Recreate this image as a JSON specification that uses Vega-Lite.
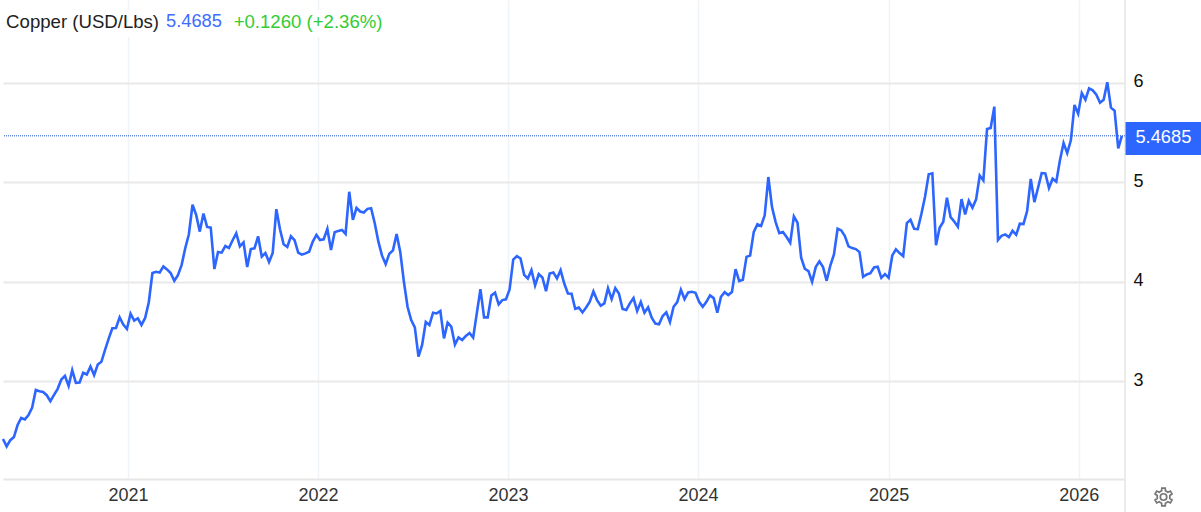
{"$schema":"https://vega.github.io/schema/vega-lite/v6.json","width":1122,"height":479,"autosize":"none","padding":{"left":3,"right":76,"top":0,"bottom":33},"background":"white","config":{"view":{"stroke":null},"font":"Liberation Sans"},
"datasets":{"copper":[
{"d":"2020-05-06","v":2.418},{"d":"2020-05-13","v":2.343},{"d":"2020-05-20","v":2.407},{"d":"2020-05-27","v":2.438},{"d":"2020-06-03","v":2.559},{"d":"2020-06-10","v":2.63},{"d":"2020-06-17","v":2.616},{"d":"2020-06-24","v":2.66},{"d":"2020-07-01","v":2.734},{"d":"2020-07-08","v":2.912},{"d":"2020-07-15","v":2.899},{"d":"2020-07-22","v":2.892},{"d":"2020-07-29","v":2.859},{"d":"2020-08-05","v":2.798},{"d":"2020-08-12","v":2.862},{"d":"2020-08-19","v":2.923},{"d":"2020-08-26","v":3.017},{"d":"2020-09-02","v":3.054},{"d":"2020-09-09","v":2.953},{"d":"2020-09-16","v":3.111},{"d":"2020-09-23","v":2.983},{"d":"2020-09-30","v":2.987},{"d":"2020-10-07","v":3.084},{"d":"2020-10-14","v":3.067},{"d":"2020-10-21","v":3.148},{"d":"2020-10-28","v":3.061},{"d":"2020-11-04","v":3.168},{"d":"2020-11-11","v":3.195},{"d":"2020-11-18","v":3.316},{"d":"2020-11-25","v":3.428},{"d":"2020-12-02","v":3.532},{"d":"2020-12-09","v":3.535},{"d":"2020-12-16","v":3.643},{"d":"2020-12-23","v":3.569},{"d":"2020-12-30","v":3.525},
{"d":"2021-01-06","v":3.68},{"d":"2021-01-13","v":3.609},{"d":"2021-01-20","v":3.633},{"d":"2021-01-27","v":3.566},{"d":"2021-02-03","v":3.636},{"d":"2021-02-10","v":3.795},{"d":"2021-02-17","v":4.088},{"d":"2021-02-24","v":4.101},{"d":"2021-03-03","v":4.094},{"d":"2021-03-10","v":4.155},{"d":"2021-03-17","v":4.125},{"d":"2021-03-24","v":4.088},{"d":"2021-03-31","v":4.01},{"d":"2021-04-07","v":4.067},{"d":"2021-04-14","v":4.168},{"d":"2021-04-21","v":4.337},{"d":"2021-04-28","v":4.478},{"d":"2021-05-05","v":4.775},{"d":"2021-05-12","v":4.673},{"d":"2021-05-19","v":4.505},{"d":"2021-05-26","v":4.687},{"d":"2021-06-02","v":4.552},{"d":"2021-06-09","v":4.545},{"d":"2021-06-16","v":4.128},{"d":"2021-06-23","v":4.3},{"d":"2021-06-30","v":4.293},{"d":"2021-07-07","v":4.36},{"d":"2021-07-14","v":4.34},{"d":"2021-07-21","v":4.418},{"d":"2021-07-28","v":4.488},{"d":"2021-08-04","v":4.357},{"d":"2021-08-11","v":4.397},{"d":"2021-08-18","v":4.148},{"d":"2021-08-25","v":4.33},{"d":"2021-09-01","v":4.337},{"d":"2021-09-08","v":4.458},{"d":"2021-09-15","v":4.253},{"d":"2021-09-22","v":4.29},{"d":"2021-09-29","v":4.199},{"d":"2021-10-06","v":4.29},{"d":"2021-10-13","v":4.731},{"d":"2021-10-20","v":4.529},{"d":"2021-10-27","v":4.377},{"d":"2021-11-03","v":4.35},{"d":"2021-11-10","v":4.458},{"d":"2021-11-17","v":4.418},{"d":"2021-11-24","v":4.293},{"d":"2021-12-01","v":4.273},{"d":"2021-12-08","v":4.286},{"d":"2021-12-15","v":4.303},{"d":"2021-12-22","v":4.404},{"d":"2021-12-29","v":4.471},
{"d":"2022-01-05","v":4.421},{"d":"2022-01-12","v":4.428},{"d":"2022-01-19","v":4.532},{"d":"2022-01-26","v":4.32},{"d":"2022-02-02","v":4.498},{"d":"2022-02-09","v":4.512},{"d":"2022-02-16","v":4.522},{"d":"2022-02-23","v":4.481},{"d":"2022-03-02","v":4.906},{"d":"2022-03-09","v":4.623},{"d":"2022-03-16","v":4.744},{"d":"2022-03-23","v":4.707},{"d":"2022-03-30","v":4.697},{"d":"2022-04-06","v":4.734},{"d":"2022-04-13","v":4.741},{"d":"2022-04-20","v":4.589},{"d":"2022-04-27","v":4.404},{"d":"2022-05-04","v":4.263},{"d":"2022-05-11","v":4.178},{"d":"2022-05-18","v":4.283},{"d":"2022-05-25","v":4.316},{"d":"2022-06-01","v":4.481},{"d":"2022-06-08","v":4.301},{"d":"2022-06-15","v":4.0},{"d":"2022-06-22","v":3.749},{"d":"2022-06-29","v":3.615},{"d":"2022-07-06","v":3.542},{"d":"2022-07-13","v":3.247},{"d":"2022-07-20","v":3.365},{"d":"2022-07-27","v":3.595},{"d":"2022-08-03","v":3.565},{"d":"2022-08-10","v":3.689},{"d":"2022-08-17","v":3.682},{"d":"2022-08-24","v":3.706},{"d":"2022-08-31","v":3.431},{"d":"2022-09-07","v":3.589},{"d":"2022-09-14","v":3.548},{"d":"2022-09-21","v":3.368},{"d":"2022-09-28","v":3.441},{"d":"2022-10-05","v":3.415},{"d":"2022-10-12","v":3.455},{"d":"2022-10-19","v":3.485},{"d":"2022-10-26","v":3.438},{"d":"2022-11-02","v":3.682},{"d":"2022-11-09","v":3.926},{"d":"2022-11-16","v":3.642},{"d":"2022-11-23","v":3.642},{"d":"2022-11-30","v":3.863},{"d":"2022-12-07","v":3.89},{"d":"2022-12-14","v":3.773},{"d":"2022-12-21","v":3.816},{"d":"2022-12-28","v":3.823},
{"d":"2023-01-04","v":3.923},{"d":"2023-01-11","v":4.224},{"d":"2023-01-18","v":4.258},{"d":"2023-01-25","v":4.234},{"d":"2023-02-01","v":4.07},{"d":"2023-02-08","v":4.033},{"d":"2023-02-15","v":4.117},{"d":"2023-02-22","v":3.963},{"d":"2023-03-01","v":4.077},{"d":"2023-03-08","v":4.043},{"d":"2023-03-15","v":3.906},{"d":"2023-03-22","v":4.084},{"d":"2023-03-29","v":4.094},{"d":"2023-04-05","v":4.033},{"d":"2023-04-12","v":4.117},{"d":"2023-04-19","v":3.983},{"d":"2023-04-26","v":3.883},{"d":"2023-05-03","v":3.88},{"d":"2023-05-10","v":3.729},{"d":"2023-05-17","v":3.742},{"d":"2023-05-24","v":3.692},{"d":"2023-05-31","v":3.742},{"d":"2023-06-07","v":3.799},{"d":"2023-06-14","v":3.903},{"d":"2023-06-21","v":3.816},{"d":"2023-06-28","v":3.759},{"d":"2023-07-05","v":3.783},{"d":"2023-07-12","v":3.936},{"d":"2023-07-19","v":3.826},{"d":"2023-07-26","v":3.936},{"d":"2023-08-02","v":3.883},{"d":"2023-08-09","v":3.726},{"d":"2023-08-16","v":3.716},{"d":"2023-08-23","v":3.783},{"d":"2023-08-30","v":3.836},{"d":"2023-09-06","v":3.706},{"d":"2023-09-13","v":3.796},{"d":"2023-09-20","v":3.689},{"d":"2023-09-27","v":3.742},{"d":"2023-10-04","v":3.639},{"d":"2023-10-11","v":3.579},{"d":"2023-10-18","v":3.572},{"d":"2023-10-25","v":3.656},{"d":"2023-11-01","v":3.692},{"d":"2023-11-08","v":3.595},{"d":"2023-11-15","v":3.749},{"d":"2023-11-22","v":3.796},{"d":"2023-11-29","v":3.92},{"d":"2023-12-06","v":3.826},{"d":"2023-12-13","v":3.893},{"d":"2023-12-20","v":3.9},{"d":"2023-12-27","v":3.89},
{"d":"2024-01-03","v":3.799},{"d":"2024-01-10","v":3.749},{"d":"2024-01-17","v":3.799},{"d":"2024-01-24","v":3.863},{"d":"2024-01-31","v":3.836},{"d":"2024-02-07","v":3.689},{"d":"2024-02-14","v":3.849},{"d":"2024-02-21","v":3.896},{"d":"2024-02-28","v":3.866},{"d":"2024-03-06","v":3.896},{"d":"2024-03-13","v":4.127},{"d":"2024-03-20","v":4.007},{"d":"2024-03-27","v":4.02},{"d":"2024-04-03","v":4.251},{"d":"2024-04-10","v":4.264},{"d":"2024-04-17","v":4.502},{"d":"2024-04-24","v":4.579},{"d":"2024-05-01","v":4.562},{"d":"2024-05-08","v":4.669},{"d":"2024-05-15","v":5.054},{"d":"2024-05-22","v":4.752},{"d":"2024-05-29","v":4.601},{"d":"2024-06-05","v":4.49},{"d":"2024-06-12","v":4.5},{"d":"2024-06-19","v":4.45},{"d":"2024-06-26","v":4.393},{"d":"2024-07-03","v":4.658},{"d":"2024-07-10","v":4.594},{"d":"2024-07-17","v":4.242},{"d":"2024-07-24","v":4.131},{"d":"2024-07-31","v":4.107},{"d":"2024-08-07","v":4.0},{"d":"2024-08-14","v":4.148},{"d":"2024-08-21","v":4.205},{"d":"2024-08-28","v":4.148},{"d":"2024-09-04","v":4.01},{"d":"2024-09-11","v":4.164},{"d":"2024-09-18","v":4.275},{"d":"2024-09-25","v":4.534},{"d":"2024-10-02","v":4.517},{"d":"2024-10-09","v":4.46},{"d":"2024-10-16","v":4.356},{"d":"2024-10-23","v":4.339},{"d":"2024-10-30","v":4.329},{"d":"2024-11-06","v":4.299},{"d":"2024-11-13","v":4.05},{"d":"2024-11-20","v":4.074},{"d":"2024-11-27","v":4.087},{"d":"2024-12-04","v":4.144},{"d":"2024-12-11","v":4.151},{"d":"2024-12-18","v":4.04},{"d":"2024-12-25","v":4.077},
{"d":"2025-01-01","v":4.04},{"d":"2025-01-08","v":4.265},{"d":"2025-01-15","v":4.326},{"d":"2025-01-22","v":4.289},{"d":"2025-01-29","v":4.258},{"d":"2025-02-05","v":4.591},{"d":"2025-02-12","v":4.624},{"d":"2025-02-19","v":4.534},{"d":"2025-02-26","v":4.53},{"d":"2025-03-05","v":4.685},{"d":"2025-03-12","v":4.859},{"d":"2025-03-19","v":5.081},{"d":"2025-03-26","v":5.091},{"d":"2025-04-02","v":4.369},{"d":"2025-04-09","v":4.544},{"d":"2025-04-16","v":4.604},{"d":"2025-04-23","v":4.846},{"d":"2025-04-30","v":4.651},{"d":"2025-05-07","v":4.607},{"d":"2025-05-14","v":4.554},{"d":"2025-05-21","v":4.832},{"d":"2025-05-28","v":4.678},{"d":"2025-06-04","v":4.815},{"d":"2025-06-11","v":4.745},{"d":"2025-06-18","v":4.829},{"d":"2025-06-25","v":5.07},{"d":"2025-07-02","v":5.02},{"d":"2025-07-09","v":5.537},{"d":"2025-07-16","v":5.547},{"d":"2025-07-23","v":5.762},{"d":"2025-07-30","v":4.419},{"d":"2025-08-06","v":4.463},{"d":"2025-08-13","v":4.477},{"d":"2025-08-20","v":4.45},{"d":"2025-08-27","v":4.513},{"d":"2025-09-03","v":4.473},{"d":"2025-09-10","v":4.584},{"d":"2025-09-17","v":4.581},{"d":"2025-09-24","v":4.711},{"d":"2025-10-01","v":5.034},{"d":"2025-10-08","v":4.802},{"d":"2025-10-15","v":4.946},{"d":"2025-10-22","v":5.094},{"d":"2025-10-29","v":5.091},{"d":"2025-11-05","v":4.943},{"d":"2025-11-12","v":5.037},{"d":"2025-11-19","v":5.007},{"d":"2025-11-26","v":5.221},{"d":"2025-12-03","v":5.396},{"d":"2025-12-10","v":5.295},{"d":"2025-12-17","v":5.423},{"d":"2025-12-24","v":5.779},{"d":"2025-12-31","v":5.691},
{"d":"2026-01-07","v":5.899},{"d":"2026-01-14","v":5.832},{"d":"2026-01-21","v":5.946},{"d":"2026-01-28","v":5.926},{"d":"2026-02-04","v":5.882},{"d":"2026-02-11","v":5.802},{"d":"2026-02-18","v":5.832},{"d":"2026-02-25","v":6.007},{"d":"2026-03-04","v":5.752},{"d":"2026-03-11","v":5.721},{"d":"2026-03-18","v":5.342},{"d":"2026-03-25","v":5.4685}
]},
"layer":[
{"data":{"name":"copper"},"mark":{"type":"line","opacity":0},
"encoding":{
"x":{"field":"d","type":"temporal","title":null,"scale":{"type":"utc","domain":[{"year":2020,"month":5,"date":6,"utc":true},{"year":2026,"month":3,"date":31,"utc":true}]},"axis":{"format":"%Y","formatType":"utc","values":[{"year":2021,"month":1,"date":1,"utc":true},{"year":2022,"month":1,"date":1,"utc":true},{"year":2023,"month":1,"date":1,"utc":true},{"year":2024,"month":1,"date":1,"utc":true},{"year":2025,"month":1,"date":1,"utc":true},{"year":2026,"month":1,"date":1,"utc":true}],"grid":true,"gridColor":"#eef3f8","gridWidth":1.5,"ticks":false,"domainColor":"#e6e6e6","domainWidth":2,"labelFontSize":18,"labelColor":"#333333","labelPadding":7,"labelFlush":false,"labelOverlap":false}},
"y":{"field":"v","type":"quantitative","title":null,"scale":{"domain":[2.016,6.835],"nice":false,"zero":false},"axis":{"orient":"right","values":[3,4,5,6],"grid":true,"gridColor":"#e9e9e9","gridWidth":2,"ticks":false,"domain":false,"labelFontSize":18,"labelColor":"#111111","labelPadding":8,"labelOffset":-1,"format":"d"}}}},
{"data":{"values":[{"t":"band"}]},"mark":{"type":"rect","fill":"white"},"encoding":{"x":{"datum":{"year":2020,"month":5,"date":6,"utc":true},"type":"temporal"},"x2":{"datum":{"year":2022,"month":5,"date":19,"utc":true}},"y":{"datum":6.734,"type":"quantitative"},"y2":{"datum":6.463}}},
{"data":{"values":[{"t":"edge"}]},"mark":{"type":"rule","stroke":"#e6e6e6","strokeWidth":1.5},"encoding":{"x":{"datum":{"year":2026,"month":3,"date":31,"utc":true},"type":"temporal"},"y":{"datum":6.835,"type":"quantitative"},"y2":{"datum":1.684}}},
{"data":{"values":[{"v":5.4685}]},"mark":{"type":"rule","stroke":"#1f4fc4","strokeWidth":1,"strokeDash":[1,1]},"encoding":{"y":{"field":"v","type":"quantitative"}}},
{"data":{"name":"copper"},"mark":{"type":"line","stroke":"#2d66ff","strokeWidth":2.6,"strokeJoin":"miter"},"encoding":{"x":{"field":"d","type":"temporal"},"y":{"field":"v","type":"quantitative"}}},
{"data":{"values":[{"t":"5.4685"}]},"mark":{"type":"rect","fill":"#2d66ff"},"encoding":{"x":{"datum":{"year":2026,"month":4,"date":1,"utc":true},"type":"temporal"},"x2":{"datum":{"year":2026,"month":9,"date":15,"utc":true}},"y":{"datum":5.608,"type":"quantitative"},"y2":{"datum":5.276}}},
{"data":{"values":[{"t":"5.4685"}]},"mark":{"type":"text","align":"left","baseline":"middle","fontSize":18.3,"fill":"white"},"encoding":{"x":{"datum":{"year":2026,"month":4,"date":20,"utc":true},"type":"temporal"},"y":{"datum":5.447,"type":"quantitative"},"text":{"field":"t"}}},
{"data":{"values":[{"t":"Copper (USD/Lbs)"}]},"mark":{"type":"text","align":"left","baseline":"middle","fontSize":18.6,"fill":"#222222"},"encoding":{"x":{"datum":{"year":2020,"month":5,"date":12,"utc":true},"type":"temporal"},"y":{"datum":6.614,"type":"quantitative"},"text":{"field":"t"}}},
{"data":{"values":[{"t":"5.4685"}]},"mark":{"type":"text","align":"left","baseline":"middle","fontSize":18.3,"fill":"#3d6cff"},"encoding":{"x":{"datum":{"year":2021,"month":3,"date":15,"utc":true},"type":"temporal"},"y":{"datum":6.614,"type":"quantitative"},"text":{"field":"t"}}},
{"data":{"values":[{"t":"+0.1260 (+2.36%)"}]},"mark":{"type":"text","align":"left","baseline":"middle","fontSize":18.6,"fill":"#33cc33"},"encoding":{"x":{"datum":{"year":2021,"month":7,"date":23,"utc":true},"type":"temporal"},"y":{"datum":6.614,"type":"quantitative"},"text":{"field":"t"}}},
{"data":{"values":[{"t":"settings"}]},"mark":{"type":"point","shape":"M-.211,-.689L-.191,-.982L.191,-.982L.211,-.689L.491,-.527L.755,-.656L.946,-.326L.702,-.162L.702,.162L.946,.326L.755,.656L.491,.527L.211,.689L.191,.982L-.191,.982L-.211,.689L-.491,.527L-.755,.656L-.946,.326L-.702,.162L-.702,-.162L-.946,-.326L-.755,-.656L-.491,-.527ZM.36,0A.36,.36 0 1,1 -.36,0A.36,.36 0 1,1 .36,0Z","filled":false,"stroke":"#777777","strokeWidth":1.7,"size":324,"opacity":1},"encoding":{"x":{"datum":{"year":2026,"month":6,"date":13,"utc":true},"type":"temporal"},"y":{"datum":1.835,"type":"quantitative"}}}
]}
